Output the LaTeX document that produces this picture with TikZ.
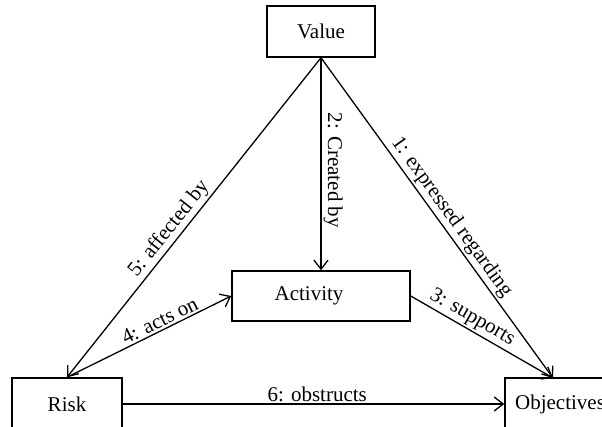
\documentclass[tikz,border=0pt]{standalone}
\usepackage{fontspec}
\setmainfont{Liberation Serif}
\usetikzlibrary{arrows.meta}
\begin{document}
\begin{tikzpicture}[x=1pt,y=-1pt,
  box/.style={draw, line width=1.5pt, minimum height=51pt, inner sep=0pt, font=\fontsize{21}{24}\selectfont},
  conn/.style={line width=1.3pt, -{Straight Barb[length=9pt,width=14pt,line width=1.3pt]}},
  lbl/.style={font=\fontsize{21}{24}\selectfont, sloped, above, inner sep=2pt}]
\path[use as bounding box, clip] (0,0) rectangle (602,427);
\fill[white] (0,0) rectangle (602,427);
\node[box, minimum width=108pt] (value) at (321,31.5) {Value};
\node[box, minimum width=178pt, minimum height=50pt] (activity) at (321,296) {Activity\hspace*{24pt}};
\node[box, minimum width=110pt, minimum height=52pt] (risk) at (67,404) {Risk};
\node[box, minimum width=110pt, minimum height=52pt] (objectives) at (560,404) {Objectives};
\coordinate (objtop) at (553,378);
\draw[conn] (value.south) -- node[lbl, pos=0.52] {1: expressed regarding} (objtop);
\draw[conn] (value.south) -- node[lbl, pos=0.53] {2: Created by} (activity.north);
\draw[conn] (activity.east) -- node[lbl, pos=0.39] {3: supports} (objtop);
\draw[conn] (risk.north) -- node[lbl, pos=0.59] {4: acts on} (activity.west);
\draw[conn] (value.south) -- node[lbl, pos=0.56] {5: affected by} (risk.north);
\draw[conn] (risk.east) -- node[lbl, pos=0.51] {6: obstructs} (objectives.west);
\end{tikzpicture}
\end{document}
